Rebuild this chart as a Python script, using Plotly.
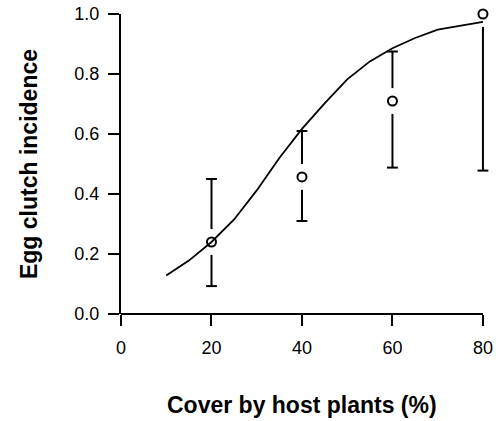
import plotly.graph_objects as go

# Observed data (cover %, incidence, CI low, CI high)
cover = [20, 40, 60, 80]
incidence = [0.24, 0.457, 0.71, 1.0]
ci_low = [0.093, 0.31, 0.488, 0.478]
ci_high = [0.45, 0.61, 0.875, 1.0]

# Fitted curve
fit_x = [10, 15, 20, 25, 30, 35, 40, 45, 50, 55, 60, 65, 70, 75, 80]
fit_y = [0.128, 0.178, 0.240, 0.315, 0.412, 0.520, 0.617, 0.702, 0.782,
         0.842, 0.886, 0.920, 0.948, 0.962, 0.974]

x_ticks = [0, 20, 40, 60, 80]
y_ticks = [0.0, 0.2, 0.4, 0.6, 0.8, 1.0]
y_labels = ["0.0", "0.2", "0.4", "0.6", "0.8", "1.0"]

GAP = 0.043   # gap between point and error bar (data units, ~13 px)
CAP = 1.2     # cap half width (x data units)

bar_x, bar_y = [], []
cap_x, cap_y = [], []
for x, v, lo, hi in zip(cover, incidence, ci_low, ci_high):
    if hi - v > GAP:
        bar_x += [x, x, None]
        bar_y += [v + GAP, hi, None]
        cap_x += [x - CAP, x + CAP, None]
        cap_y += [hi, hi, None]
    if v - lo > GAP:
        bar_x += [x, x, None]
        bar_y += [v - GAP, lo, None]
        cap_x += [x - CAP, x + CAP, None]
        cap_y += [lo, lo, None]

fig = go.Figure()
fig.add_trace(go.Scatter(x=fit_x, y=fit_y, mode="lines",
                         line=dict(color="black", width=1.8),
                         cliponaxis=False, showlegend=False, hoverinfo="skip"))
fig.add_trace(go.Scatter(x=bar_x, y=bar_y, mode="lines",
                         line=dict(color="black", width=2),
                         cliponaxis=False, showlegend=False, hoverinfo="skip"))
fig.add_trace(go.Scatter(x=cap_x, y=cap_y, mode="lines",
                         line=dict(color="black", width=2),
                         cliponaxis=False, showlegend=False, hoverinfo="skip"))
fig.add_trace(go.Scatter(x=cover, y=incidence, mode="markers",
                         marker=dict(symbol="circle-open", size=9, color="black",
                                     line=dict(width=2, color="black")),
                         cliponaxis=False, showlegend=False))

# x axis line only spanning the tick range (R style)
fig.add_shape(type="line", xref="x", yref="paper",
              x0=x_ticks[0], x1=x_ticks[-1], y0=0, y1=0,
              line=dict(color="black", width=2))

# x axis title centred under the tick range
fig.add_annotation(text="<b>Cover by host plants (%)</b>", showarrow=False,
                   xref="x", yref="paper",
                   x=(x_ticks[0] + x_ticks[-1]) / 2, y=0,
                   xanchor="center", yanchor="middle", yshift=-91,
                   font=dict(size=23))

font_family = "Liberation Sans, Arial, Helvetica, sans-serif"
fig.update_layout(
    width=496, height=421,
    margin=dict(l=121, r=4, t=14, b=107, autoexpand=False),
    plot_bgcolor="white", paper_bgcolor="white",
    font=dict(family=font_family, color="black", size=18),
    xaxis=dict(range=[0, 82], tickvals=x_ticks, ticktext=[str(t) for t in x_ticks],
               showline=False,
               ticks="outside", ticklen=11, tickwidth=2, tickcolor="black",
               showgrid=False, zeroline=False, ticklabelstandoff=6,
               automargin=False),
    yaxis=dict(range=[0, 1], tickvals=y_ticks, ticktext=y_labels,
               showline=True, linecolor="black", linewidth=2,
               ticks="outside", ticklen=11, tickwidth=2, tickcolor="black",
               showgrid=False, zeroline=False, ticklabelstandoff=5,
               automargin=False,
               title=dict(text="<b>Egg clutch incidence</b>",
                          font=dict(size=23), standoff=30)),
)

fig.write_html("out.html",
               config={"displayModeBar": False},
               post_script="document.body.style.margin='0';document.body.style.overflow='hidden';")
